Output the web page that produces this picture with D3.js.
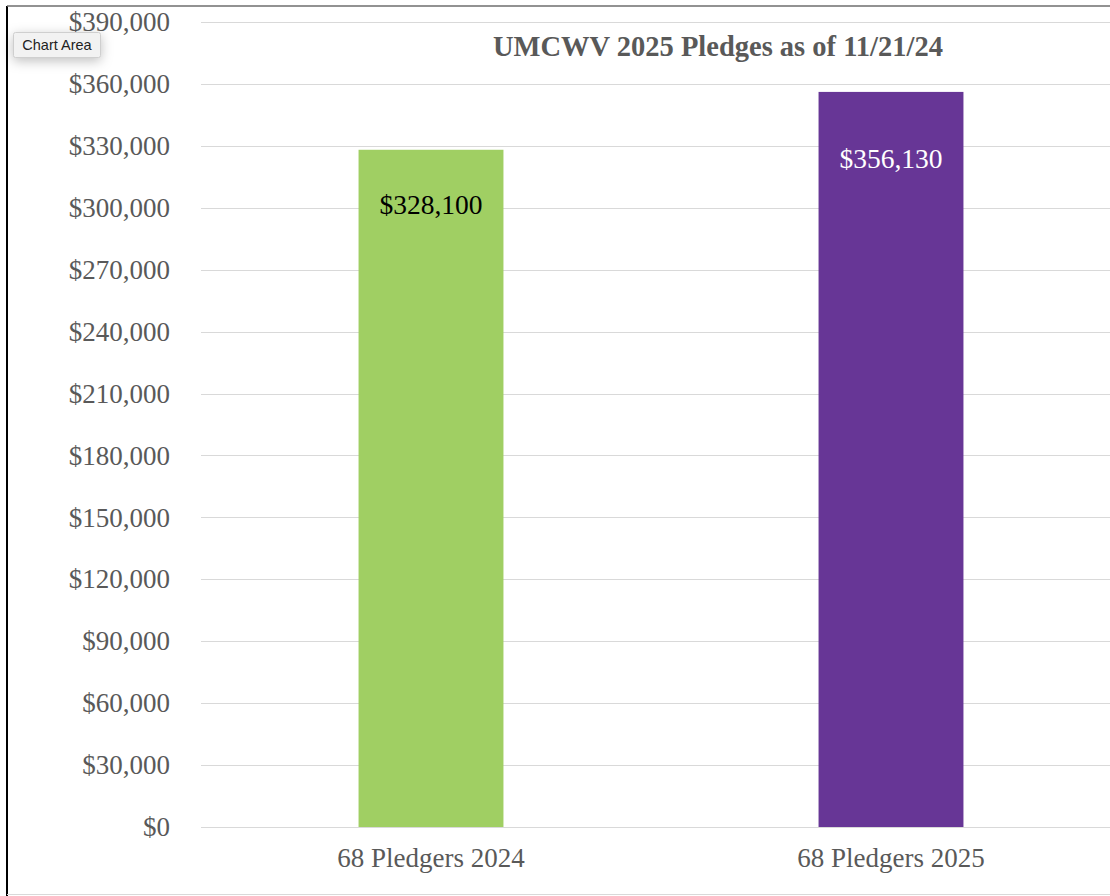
<!DOCTYPE html>
<html>
<head>
<meta charset="utf-8">
<script src="https://cdn.jsdelivr.net/npm/d3@7"></script>
<style>
  html, body { margin: 0; padding: 0; background: #fff; }
  svg { display: block; }
</style>
</head>
<body>
<svg id="chart" width="1110" height="896"></svg>
<script>
const categories = ["68 Pledgers 2024", "68 Pledgers 2025"];
const values = [328100, 356130];
const barColors = ["#a0cf63", "#673696"];
const labelColors = ["#000000", "#ffffff"];
const tickValues = [0, 30000, 60000, 90000, 120000, 150000, 180000, 210000, 240000, 270000, 300000, 330000, 360000, 390000];
const title = "UMCWV 2025 Pledges as of 11/21/24";

const svg = d3.select("#chart");
const W = 1110, H = 896;
const serif = "'Liberation Serif', 'Times New Roman', serif";

// frame
svg.append("line").attr("x1", 7).attr("x2", 7).attr("y1", 6).attr("y2", H)
  .attr("stroke", "#000").attr("stroke-width", 2);
svg.append("line").attr("x1", 7).attr("x2", W).attr("y1", 6).attr("y2", 6)
  .attr("stroke", "#6e6e6e").attr("stroke-width", 1.5);
svg.append("line").attr("x1", 7).attr("x2", W).attr("y1", 894.5).attr("y2", 894.5)
  .attr("stroke", "#d9d9d9").attr("stroke-width", 1);

const plotLeft = 201, plotRight = 1121, plotTop = 22, plotBottom = 827;

const y = d3.scaleLinear().domain([0, 390000]).range([plotBottom, plotTop]);
const x = d3.scaleBand().domain(categories).range([plotLeft, plotRight])
  .paddingInner(0.685).paddingOuter(0.3425);

// gridlines
svg.append("g").selectAll("line").data(tickValues).join("line")
  .attr("x1", plotLeft).attr("x2", W)
  .attr("y1", d => Math.round(y(d)) + 0.5).attr("y2", d => Math.round(y(d)) + 0.5)
  .attr("stroke", "#d9d9d9").attr("stroke-width", 1);

// y axis labels
const yAxis = d3.axisLeft(y).tickValues(tickValues)
  .tickFormat(d => "$" + d3.format(",")(d)).tickSize(0).tickPadding(0);
const gy = svg.append("g").attr("transform", `translate(170,0)`).call(yAxis);
gy.select(".domain").remove();
gy.selectAll("text").attr("font-family", serif).attr("font-size", 27)
  .attr("fill", "#595959").attr("dy", "0.32em");

// bars
svg.append("g").selectAll("rect").data(values).join("rect")
  .attr("x", (d, i) => x(categories[i]))
  .attr("width", x.bandwidth())
  .attr("y", d => y(d))
  .attr("height", d => y(0) - y(d))
  .attr("fill", (d, i) => barColors[i]);

// bar labels
const labelDy = [64, 76];
svg.append("g").selectAll("text").data(values).join("text")
  .attr("x", (d, i) => x(categories[i]) + x.bandwidth() / 2)
  .attr("y", (d, i) => y(d) + labelDy[i])
  .attr("text-anchor", "middle")
  .attr("font-family", serif).attr("font-size", 27.5)
  .attr("fill", (d, i) => labelColors[i])
  .text(d => "$" + d3.format(",")(d));

// x axis labels
const xAxis = d3.axisBottom(x).tickSize(0).tickPadding(0);
const gx = svg.append("g").attr("transform", `translate(0,${plotBottom})`).call(xAxis);
gx.select(".domain").remove();
gx.selectAll("text").attr("font-family", serif).attr("font-size", 27)
  .attr("fill", "#595959").attr("dy", null).attr("y", 40);

// title
svg.append("text").attr("x", 718).attr("y", 56).attr("text-anchor", "middle")
  .attr("font-family", serif).attr("font-weight", "bold").attr("font-size", 28.5)
  .attr("fill", "#595959").text(title);

// "Chart Area" tooltip
const tip = svg.append("g");
tip.append("rect").attr("x", 13.5).attr("y", 32.5).attr("width", 87).attr("height", 25)
  .attr("rx", 2).attr("fill", "#f2f2f2").attr("stroke", "#cfcfcf")
  .style("filter", "drop-shadow(0px 3px 6px rgba(0,0,0,0.25))");
tip.append("text").attr("x", 57).attr("y", 50).attr("text-anchor", "middle")
  .attr("font-family", "'Liberation Sans', Arial, sans-serif").attr("font-size", 14.5)
  .attr("fill", "#222").text("Chart Area");
</script>
</body>
</html>
